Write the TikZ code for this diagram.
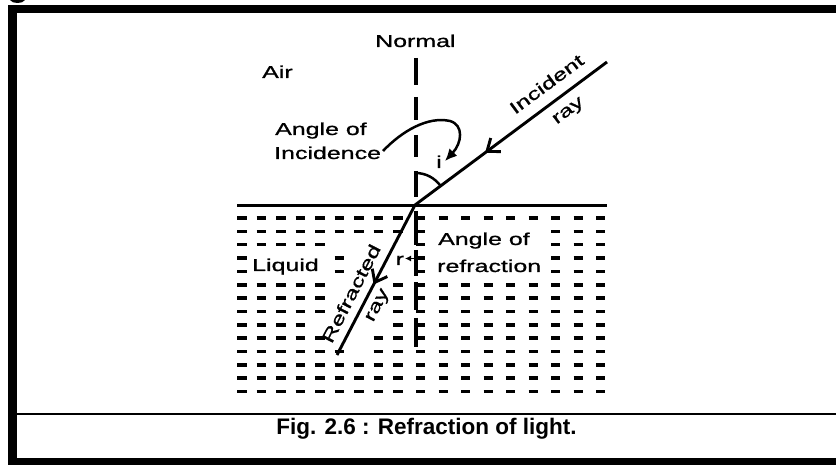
\documentclass[tikz,border=0pt]{standalone}
\usepackage{fontspec}
\setmainfont{Liberation Sans}
\newfontfamily\widesans{Liberation Sans}[FakeStretch=1.45,FakeBold=1]
\usetikzlibrary{arrows.meta,decorations.markings}
\tikzset{
  lbl/.style={font=\widesans\fontsize{17.2}{20}\selectfont, inner sep=0pt},
  captionlbl/.style={font=\bfseries\fontsize{22.5}{26}\selectfont, inner sep=0pt},
  lightray/.style={line width=2.9pt},
  dsh/.style={line width=3.5pt},
  nrm/.style={line width=4pt},
  surface/.style={line width=2.6pt},
  midbarb/.style={postaction={decorate}, decoration={markings,
      mark=at position #1 with {\arrow{Straight Barb[length=11pt,width=17pt]}}}}
}
\newcommand{\drow}[3]{%
  \foreach \k in {#2} {\draw[dsh] ({237+19.5*\k},#1) -- ++(9.5,0);}
  \foreach \k in {#3} {\draw[dsh] ({416+22.5*\k},#1) -- ++(9,0);}
}
\begin{document}
\begin{tikzpicture}[x=1pt,y=-1pt]
\useasboundingbox (0,0) rectangle (836,465);
\fill[white] (0,0) rectangle (836,465);
% frame
\fill[black] (8,5) rectangle (836,13);
\fill[black] (8,5) rectangle (17,465);
\fill[black] (8,458) rectangle (836,465);
\draw[line width=2.5pt] (17,414) -- (836,414);
\fill[black] (10,0) .. controls (12,4) and (23,4) .. (25,0) -- cycle;
% liquid dashes
\drow{218}{0,...,8}{0,...,8}
\drow{231.4}{0,...,8}{0,6,7,8}
\drow{244.7}{0,...,4}{0,6,7,8}
\drow{258}{0,5}{0,6,7,8}
\drow{271.4}{0,5}{0,6,7,8}
\drow{284.8}{0,1,2,3,4,8}{0,...,8}
\drow{298.1}{0,1,2,3,4,8}{0,...,8}
\drow{311.5}{0,1,2,3,4,8}{0,...,8}
\drow{324.8}{0,1,2,3,8}{0,...,8}
\drow{338.2}{0,1,2,3,4,7,8}{0,...,8}
\drow{351.5}{0,1,2,3,4,5,7,8}{0,...,8}
\drow{364.9}{0,...,8}{0,...,8}
\drow{378.2}{0,...,8}{0,...,8}
\drow{391.6}{0,...,8}{0,...,8}
% surface
\draw[surface] (237,205.5) -- (607,205.5);
% normal
\foreach \a/\b in {58/85,97/120,135/157,171/197,211/245,250/276,282/310,318/347}
  {\draw[nrm] (415.5,\a) -- (415.5,\b);}
% rays
\coordinate (O) at (415,205);
\coordinate (I) at (607,62);
\coordinate (R) at (337,355);
\draw[lightray, midbarb=0.635] (I) -- (O);
\draw[lightray, midbarb=0.53] (O) -- (R);
% angle i arc
\draw[line width=2.5pt] (415.5,173) .. controls (425.7,173) and (434.6,177.8) .. (440.7,186);
% labels
\node[lbl, anchor=base west] (normal) at (375,47) {Normal};
\node[lbl, anchor=base west] (air) at (262,78) {Air};
\node[lbl, anchor=base west] (aoi1) at (275,135) {Angle of};
\node[lbl, anchor=base west] (aoi2) at (274,159) {Incidence};
\node[lbl, anchor=base west] (ilbl) at (436,168) {i};
\node[lbl, anchor=base west] (aor1) at (438,245) {Angle of};
\node[lbl, anchor=base west] (aor2) at (437,272) {refraction};
\node[lbl, anchor=base west] (liquid) at (252,271) {Liquid};
\node[lbl, anchor=base west] (rlbl) at (395.5,265) {r};
\node[lbl, rotate=36.5] (inc1) at (546.5,84) {Incident};
\node[lbl, rotate=36.5] (inc2) at (569,112) {ray};
\node[lbl, rotate=62.7] (ref1) at (351,293.5) {Refracted};
\node[lbl, rotate=62.7] (ref2) at (378.5,306) {ray};
% curved arrow for angle of incidence
\coordinate (cs) at (383,151);
\coordinate (ce) at (445,161);
\draw[line width=2.5pt, -{Latex[length=12pt,width=11pt]}] (cs) .. controls (402,131) and (428,116) .. (450,121) .. controls (464,125) and (462,143) .. (ce);
% r arrow
\coordinate (rs) at (414,258.5);
\coordinate (re) at (405,258.5);
\draw[line width=1.5pt, -{Latex[length=6pt,width=6pt]}] (rs) -- (re);
% caption
\node[captionlbl, anchor=base] (cap) at (426.5,434) {Fig. 2.6 : Refraction of light.};
\end{tikzpicture}
\end{document}
